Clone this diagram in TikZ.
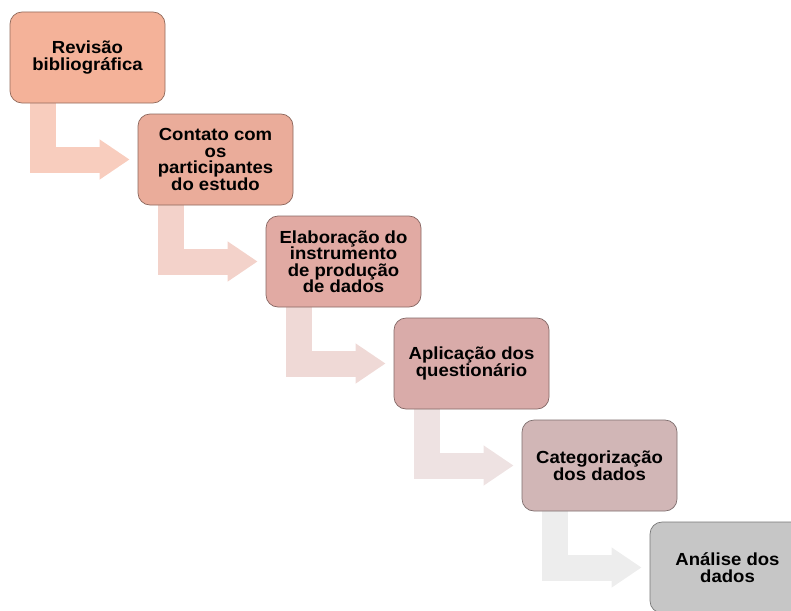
\documentclass[tikz,border=0pt]{standalone}
\usepackage{fontspec}
\setmainfont{Liberation Sans}[FakeStretch=1.06]
\usepackage{tikz}
\usetikzlibrary{arrows.meta, backgrounds}
\usepackage[dvipsnames]{xcolor}

\definecolor{caixaA}{HTML}{F4B299}
\definecolor{caixaB}{HTML}{EAAC9A}
\definecolor{caixaC}{HTML}{E1AAA3}
\definecolor{caixaD}{HTML}{D9ABA9}
\definecolor{caixaE}{HTML}{D1B6B6}
\definecolor{caixaF}{HTML}{C6C6C6}
\definecolor{setaA}{HTML}{F8CDBE}
\definecolor{setaB}{HTML}{F3D2CA}
\definecolor{setaC}{HTML}{EFD9D6}
\definecolor{setaD}{HTML}{EEE2E2}
\definecolor{setaE}{HTML}{EDEDED}

\begin{document}
\begin{tikzpicture}[x=1pt, y=-1pt,
			etapa/.style={rectangle, rounded corners=12pt, draw=#1!60!black,
				fill=#1, line width=0.7pt, minimum width=155pt, minimum height=91pt,
				inner sep=0pt, align=center, font=\bfseries\fontsize{17.5}{16.5}\selectfont},
			seta/.style={draw=#1, line width=26pt, line join=miter,
				-{Triangle[length=30pt, width=38pt, fill=#1]}, shorten >=8pt}]
			
			\useasboundingbox (0,0) rectangle (791,610);
			
			% Etapas da pesquisa em escada
			\node[etapa=caixaA] (b1) at (87.5,57.5) {Revisão\\bibliográfica};
			\node[etapa=caixaB] (b2) at (215.5,159.5) {Contato com\\os\\participantes\\do estudo};
			\node[etapa=caixaC] (b3) at (343.5,261.5) {Elaboração do\\instrumento\\de produção\\de dados};
			\node[etapa=caixaD] (b4) at (471.5,363.5) {Aplicação dos\\questionário};
			\node[etapa=caixaE] (b5) at (599.5,465.5) {Categorização\\dos dados};
			\node[etapa=caixaF] (b6) at (727.5,567.5) {Análise dos\\dados};
			
			% --- Setas dobradas entre as etapas ---
			\begin{scope}[on background layer]
				\draw[seta=setaA] ([xshift=-45pt, yshift=4pt]b1.south) |- (b2.west);
				\draw[seta=setaB] ([xshift=-45pt, yshift=4pt]b2.south) |- (b3.west);
				\draw[seta=setaC] ([xshift=-45pt, yshift=4pt]b3.south) |- (b4.west);
				\draw[seta=setaD] ([xshift=-45pt, yshift=4pt]b4.south) |- (b5.west);
				\draw[seta=setaE] ([xshift=-45pt, yshift=4pt]b5.south) |- (b6.west);
			\end{scope}
		\end{tikzpicture}
\end{document}
